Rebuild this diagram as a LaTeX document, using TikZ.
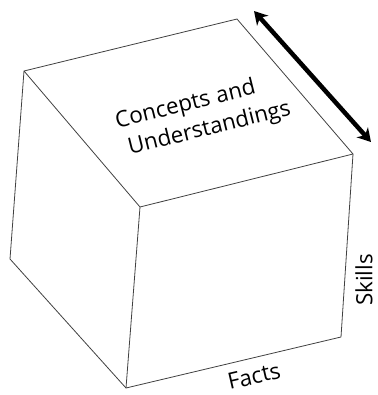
\documentclass[tikz,border=0pt]{standalone}
\usepackage{fontspec}
\setmainfont{Open Sans}
\usetikzlibrary{arrows.meta}
\begin{document}
\begin{tikzpicture}[x=1bp,y=-1bp,
  edge/.style={draw=black!75,line width=0.8bp,line join=round},
  lbl/.style={font=\fontsize{22.5}{29}\selectfont,inner sep=0pt},
  dbl/.style={line width=4.5bp,{Stealth[length=13bp,width=15bp,inset=4bp]}-{Stealth[length=13bp,width=15bp,inset=4bp]}}]
\useasboundingbox (0,0) rectangle (378,395);
\coordinate (A) at (24,71);
\coordinate (B) at (237,19);
\coordinate (C) at (353,154);
\coordinate (D) at (140,207);
\coordinate (E) at (10,259);
\coordinate (F) at (126,388);
\coordinate (G) at (341,337);
\coordinate (T1) at (254,11);
\coordinate (T2) at (371,142);
\draw[edge] (A) -- (B) -- (C) -- (D) -- cycle;
\draw[edge] (A) -- (E) -- (F) -- (G) -- (C);
\draw[edge] (D) -- (F);
\draw[dbl] (T1) -- (T2);
\node[lbl,align=left,rotate=14] (top) at (206,115) {\hspace*{-6bp}Concepts\hspace{0.3em}and\\Understandings};
\node[lbl,rotate=13] (facts) at (254,376) {Facts};
\node[lbl,rotate=90] (skills) at (364,280) {Skills};
\end{tikzpicture}
\end{document}
